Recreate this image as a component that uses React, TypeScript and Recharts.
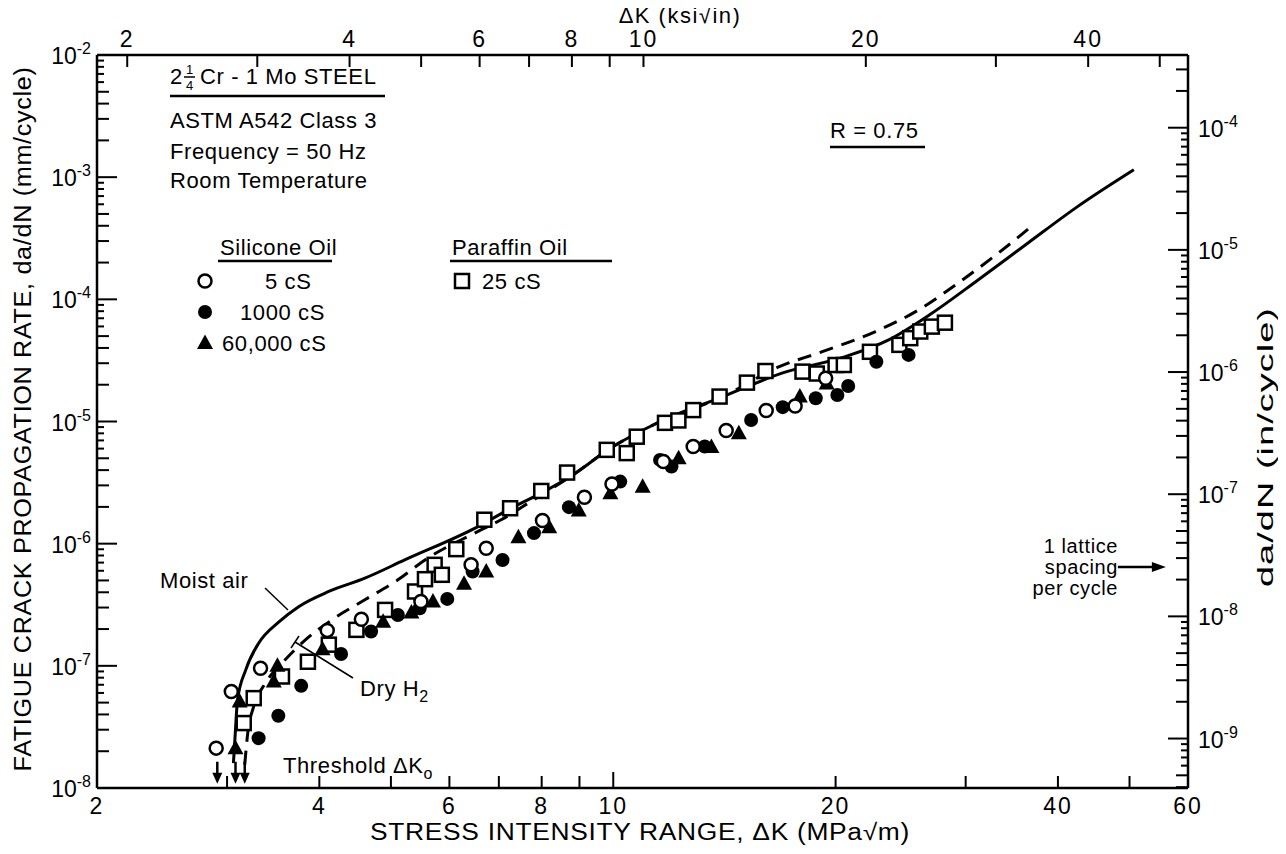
import React from "react";
import { ComposedChart, Line, Scatter, XAxis, YAxis } from "recharts";

const FONT = '"Liberation Sans", Arial, sans-serif';
const MPA_PER_KSI = 1.0988;
const MM_PER_IN = 25.4;

// stress intensity range, MPa√m (bottom) and ksi√in (top)
const MPA_DOMAIN = [2, 60];
const MPA_TICKS = [2, 3, 4, 5, 6, 7, 8, 9, 10, 20, 30, 40, 50, 60];
const MPA_LABELS = [2, 4, 6, 8, 10, 20, 40, 60];
const KSI_TICKS = [2, 3, 4, 5, 6, 7, 8, 9, 10, 20, 30, 40, 50];
const KSI_LABELS = [2, 4, 6, 8, 10, 20, 40];

// growth rate, mm/cycle (left) and in/cycle (right)
const MM_DOMAIN = [1e-8, 1e-2];

// k = ΔK (MPa√m), v = da/dN (mm/cycle)
const MOIST_AIR = [
  { k: 3.06, v: 1.6e-8 },
  { k: 3.07, v: 2.17e-8 },
  { k: 3.1, v: 5.27e-8 },
  { k: 3.18, v: 9.27e-8 },
  { k: 3.31, v: 1.53e-7 },
  { k: 3.53, v: 2.3e-7 },
  { k: 3.75, v: 3.05e-7 },
  { k: 4.12, v: 4.06e-7 },
  { k: 4.61, v: 5.22e-7 },
  { k: 5.22, v: 7.36e-7 },
  { k: 6.56, v: 1.38e-6 },
  { k: 7.27, v: 1.95e-6 },
  { k: 8.06, v: 2.67e-6 },
  { k: 8.75, v: 3.54e-6 },
  { k: 9.91, v: 6.04e-6 },
  { k: 11.45, v: 9.68e-6 },
  { k: 14.08, v: 1.6e-5 },
  { k: 16.96, v: 2.5e-5 },
  { k: 20.62, v: 3.4e-5 },
  { k: 23.6, v: 4.66e-5 },
  { k: 27.0, v: 7.69e-5 },
  { k: 31.18, v: 1.44e-4 },
  { k: 36.4, v: 2.88e-4 },
  { k: 42.52, v: 5.74e-4 },
  { k: 50.68, v: 1.15e-3 },
];

const DRY_H2 = [
  { k: 3.17, v: 1.55e-8 },
  { k: 3.2, v: 2.83e-8 },
  { k: 3.26, v: 4.65e-8 },
  { k: 3.38, v: 7.21e-8 },
  { k: 3.56, v: 1.05e-7 },
  { k: 3.83, v: 1.63e-7 },
  { k: 4.16, v: 2.38e-7 },
  { k: 4.61, v: 3.47e-7 },
  { k: 5.11, v: 5.06e-7 },
  { k: 5.56, v: 7.36e-7 },
  { k: 6.49, v: 1.22e-6 },
  { k: 7.05, v: 1.57e-6 },
  { k: 7.73, v: 2.21e-6 },
  { k: 8.75, v: 3.54e-6 },
  { k: 9.91, v: 6.04e-6 },
  { k: 11.45, v: 9.68e-6 },
  { k: 14.08, v: 1.6e-5 },
  { k: 16.78, v: 2.81e-5 },
  { k: 19.19, v: 3.73e-5 },
  { k: 22.65, v: 5.45e-5 },
  { k: 25.9, v: 8.18e-5 },
  { k: 29.31, v: 1.36e-4 },
  { k: 33.18, v: 2.38e-4 },
  { k: 36.79, v: 3.93e-4 },
];

const SILICONE_5CS = [
  { k: 2.9, v: 2.12e-8 },
  { k: 3.04, v: 6.17e-8 },
  { k: 3.33, v: 9.57e-8 },
  { k: 4.1, v: 1.95e-7 },
  { k: 4.56, v: 2.41e-7 },
  { k: 5.49, v: 3.36e-7 },
  { k: 6.42, v: 6.71e-7 },
  { k: 6.73, v: 9.18e-7 },
  { k: 8.02, v: 1.55e-6 },
  { k: 9.14, v: 2.4e-6 },
  { k: 9.96, v: 3.08e-6 },
  { k: 11.69, v: 4.7e-6 },
  { k: 12.83, v: 6.24e-6 },
  { k: 14.22, v: 8.43e-6 },
  { k: 16.11, v: 1.23e-5 },
  { k: 17.63, v: 1.34e-5 },
  { k: 19.39, v: 2.26e-5 },
];

const SILICONE_1000CS = [
  { k: 3.31, v: 2.56e-8 },
  { k: 3.52, v: 3.9e-8 },
  { k: 3.78, v: 6.86e-8 },
  { k: 4.28, v: 1.25e-7 },
  { k: 4.7, v: 1.91e-7 },
  { k: 5.11, v: 2.61e-7 },
  { k: 5.47, v: 2.96e-7 },
  { k: 5.96, v: 3.53e-7 },
  { k: 6.45, v: 5.91e-7 },
  { k: 7.08, v: 7.36e-7 },
  { k: 7.81, v: 1.22e-6 },
  { k: 8.71, v: 1.99e-6 },
  { k: 10.22, v: 3.22e-6 },
  { k: 11.57, v: 4.85e-6 },
  { k: 11.99, v: 4.28e-6 },
  { k: 13.3, v: 6.24e-6 },
  { k: 15.37, v: 1.03e-5 },
  { k: 16.96, v: 1.31e-5 },
  { k: 18.8, v: 1.55e-5 },
  { k: 20.11, v: 1.65e-5 },
  { k: 20.8, v: 1.95e-5 },
  { k: 22.71, v: 3.08e-5 },
  { k: 25.11, v: 3.51e-5 },
];

const SILICONE_60000CS = [
  { k: 3.08, v: 2.12e-8 },
  { k: 3.12, v: 5.1e-8 },
  { k: 3.47, v: 7.43e-8 },
  { k: 3.51, v: 1.0e-7 },
  { k: 4.04, v: 1.37e-7 },
  { k: 4.88, v: 2.3e-7 },
  { k: 5.33, v: 2.73e-7 },
  { k: 5.7, v: 3.36e-7 },
  { k: 6.28, v: 4.69e-7 },
  { k: 6.73, v: 5.91e-7 },
  { k: 7.44, v: 1.13e-6 },
  { k: 8.19, v: 1.36e-6 },
  { k: 8.98, v: 1.87e-6 },
  { k: 9.91, v: 2.59e-6 },
  { k: 10.96, v: 2.93e-6 },
  { k: 12.26, v: 5.01e-6 },
  { k: 13.58, v: 6.17e-6 },
  { k: 14.79, v: 8.02e-6 },
  { k: 17.89, v: 1.6e-5 },
  { k: 19.45, v: 2.05e-5 },
];

const PARAFFIN_25CS = [
  { k: 3.16, v: 3.4e-8 },
  { k: 3.26, v: 5.44e-8 },
  { k: 3.56, v: 8.18e-8 },
  { k: 3.86, v: 1.08e-7 },
  { k: 4.12, v: 1.49e-7 },
  { k: 4.49, v: 1.97e-7 },
  { k: 4.91, v: 2.87e-7 },
  { k: 5.39, v: 4.06e-7 },
  { k: 5.56, v: 5.12e-7 },
  { k: 5.73, v: 6.71e-7 },
  { k: 5.86, v: 5.56e-7 },
  { k: 6.13, v: 9.02e-7 },
  { k: 6.69, v: 1.57e-6 },
  { k: 7.25, v: 1.95e-6 },
  { k: 7.99, v: 2.7e-6 },
  { k: 8.66, v: 3.82e-6 },
  { k: 9.8, v: 5.86e-6 },
  { k: 10.43, v: 5.51e-6 },
  { k: 10.76, v: 7.51e-6 },
  { k: 11.75, v: 9.75e-6 },
  { k: 12.25, v: 1.02e-5 },
  { k: 12.83, v: 1.24e-5 },
  { k: 13.93, v: 1.6e-5 },
  { k: 15.17, v: 2.08e-5 },
  { k: 16.07, v: 2.59e-5 },
  { k: 18.04, v: 2.56e-5 },
  { k: 18.86, v: 2.47e-5 },
  { k: 20.0, v: 2.9e-5 },
  { k: 20.52, v: 2.9e-5 },
  { k: 22.26, v: 3.72e-5 },
  { k: 24.4, v: 4.24e-5 },
  { k: 25.24, v: 4.81e-5 },
  { k: 26.04, v: 5.45e-5 },
  { k: 27.0, v: 5.98e-5 },
  { k: 28.12, v: 6.44e-5 },
];

// threshold ΔK0 arrows and the one-lattice-spacing marker
const THRESHOLD = [
  { k: 2.91, v: 1.64e-8 },
  { k: 3.08, v: 1.64e-8 },
  { k: 3.17, v: 1.64e-8 },
];
const LATTICE = [{ k: 56, v: 6.45e-7 }];

function logTicks(lo: number, hi: number) {
  const out: number[] = [];
  for (let d = Math.floor(Math.log10(lo)); d <= Math.ceil(Math.log10(hi)); d++) {
    for (let m = 1; m <= 9; m++) {
      const t = parseFloat((m * Math.pow(10, d)).toPrecision(6));
      if (t >= lo * 0.999999 && t <= hi * 1.000001) out.push(t);
    }
  }
  return out;
}

const MM_TICKS = logTicks(MM_DOMAIN[0], MM_DOMAIN[1]);
const IN_TICKS = logTicks(MM_DOMAIN[0] / MM_PER_IN, MM_DOMAIN[1] / MM_PER_IN);
// the ksi axis only gets its ticks when a series is bound to it
const KSI_ANCHOR = KSI_TICKS.map((k) => ({ k, v: MM_DOMAIN[0] }));

const isDecade = (t: number) =>
  Math.abs(Math.log10(t) - Math.round(Math.log10(t))) < 1e-6;
const mantissa = (t: number) =>
  Math.round(t / Math.pow(10, Math.floor(Math.log10(t) + 1e-9)));

function decadeLabel(x: number, y: number, t: number, anchor: "start" | "end") {
  const exp = Math.round(Math.log10(t));
  return (
    <text x={x} y={y} textAnchor={anchor} fontFamily={FONT} fontSize={23} fill="#000">
      10
      <tspan dy={-10} fontSize={16}>
        {String(exp)}
      </tspan>
    </text>
  );
}

const BottomTick = (props: any) => {
  const { x, y, payload } = props;
  const t = payload.value;
  const edge = t === 2 || t === 60;
  const len = t === 10 ? 16 : 12;
  return (
    <g>
      {!edge && <line x1={x} y1={y} x2={x} y2={y - len} stroke="#000" strokeWidth={2} />}
      {MPA_LABELS.includes(t) && (
        <text x={x} y={y + 26} textAnchor="middle" fontFamily={FONT} fontSize={23} letterSpacing={2} fill="#000">
          {t}
        </text>
      )}
    </g>
  );
};

const TopTick = (props: any) => {
  const { x, y, payload } = props;
  const t = payload.value;
  return (
    <g>
      <line x1={x} y1={y} x2={x} y2={y + 12} stroke="#000" strokeWidth={2} />
      {KSI_LABELS.includes(t) && (
        <text x={x} y={y - 8} textAnchor="middle" fontFamily={FONT} fontSize={23} letterSpacing={2} fill="#000">
          {t}
        </text>
      )}
    </g>
  );
};

const tickLen = (t: number) => {
  if (isDecade(t)) return 20;
  return mantissa(t) <= 5 ? 12 : 7;
};

const LeftTick = (props: any) => {
  const { x, y, payload } = props;
  const t = payload.value;
  const edge = Math.abs(t - 1e-8) < 1e-14 || Math.abs(t - 1e-2) < 1e-8;
  return (
    <g>
      {!edge && <line x1={x} y1={y} x2={x + tickLen(t)} y2={y} stroke="#000" strokeWidth={2} />}
      {isDecade(t) && decadeLabel(x - 6, y + 9, t, "end")}
    </g>
  );
};

const RightTick = (props: any) => {
  const { x, y, payload } = props;
  const t = payload.value;
  return (
    <g>
      <line x1={x} y1={y} x2={x - tickLen(t)} y2={y} stroke="#000" strokeWidth={2} />
      {isDecade(t) && decadeLabel(x + 10, y + 9, t, "start")}
    </g>
  );
};

const openCircle = (p: any) => (
  <circle cx={p.cx} cy={p.cy} r={6.5} fill="#fff" stroke="#000" strokeWidth={2.5} />
);
const filledCircle = (p: any) => <circle cx={p.cx} cy={p.cy} r={7} fill="#000" />;
const filledTriangle = (p: any) => (
  <polygon
    points={`${p.cx},${p.cy - 8.5} ${p.cx - 8},${p.cy + 6} ${p.cx + 8},${p.cy + 6}`}
    fill="#000"
  />
);
const openSquare = (p: any) => (
  <rect x={p.cx - 7} y={p.cy - 7} width={14} height={14} fill="#fff" stroke="#000" strokeWidth={2.5} />
);
const downArrow = (p: any) => (
  <g>
    <line x1={p.cx} y1={p.cy} x2={p.cx} y2={p.cy + 12} stroke="#000" strokeWidth={2.5} />
    <polygon points={`${p.cx - 5},${p.cy + 11} ${p.cx + 5},${p.cy + 11} ${p.cx},${p.cy + 22}`} fill="#000" />
  </g>
);
const rightArrow = (p: any) => (
  <g>
    <line x1={p.cx - 48} y1={p.cy} x2={p.cx - 10} y2={p.cy} stroke="#000" strokeWidth={2.5} />
    <polygon points={`${p.cx - 14},${p.cy - 5} ${p.cx - 14},${p.cy + 5} ${p.cx},${p.cy}`} fill="#000" />
  </g>
);
const noMark = () => <g />;

const txt = { fontFamily: FONT, fontSize: 22, letterSpacing: 0.6, fill: "#000" };

function Annotations() {
  // covers the whole page (body margin included) so nothing near the edges is clipped
  return (
    <svg
      width={1286}
      height={854}
      style={{ position: "absolute", left: -8, top: -8, pointerEvents: "none" }}
    >
      <g transform="translate(8,8)">
        {/* axis titles */}
        <text x={672} y={15} textAnchor="middle" fontFamily={FONT} fontSize={22} letterSpacing={1.5} fill="#000">
          ΔK (ksi√in)
        </text>
        <text x={632} y={832} textAnchor="middle" {...txt} fontSize={23} textLength={540} lengthAdjust="spacingAndGlyphs">
          STRESS INTENSITY RANGE, ΔK (MPa√m)
        </text>
        <text
          transform="translate(23,411) rotate(-90)"
          textAnchor="middle"
          {...txt}
          fontSize={23}
          textLength={705}
          lengthAdjust="spacingAndGlyphs"
        >
          FATIGUE CRACK PROPAGATION RATE, da/dN (mm/cycle)
        </text>
        <text
          transform="translate(1265,439) rotate(-90)"
          textAnchor="middle"
          {...txt}
          fontSize={22}
          textLength={280}
          lengthAdjust="spacingAndGlyphs"
        >
          da/dN (in/cycle)
        </text>

        {/* material block */}
        <text x={162} y={76} {...txt}>2</text>
        <text x={178} y={66} fontFamily={FONT} fontSize={13}>1</text>
        <line x1={176} y1={69} x2={187} y2={69} stroke="#000" strokeWidth={1.5} />
        <text x={178} y={82} fontFamily={FONT} fontSize={13}>4</text>
        <text x={192} y={76} {...txt}>Cr - 1 Mo STEEL</text>
        <line x1={162} y1={88} x2={377} y2={88} stroke="#000" strokeWidth={2.5} />
        <text x={162} y={120} {...txt}>ASTM A542 Class 3</text>
        <text x={162} y={151} {...txt}>Frequency = 50 Hz</text>
        <text x={162} y={180} {...txt}>Room Temperature</text>

        {/* legend */}
        <text x={212} y={247} {...txt}>Silicone Oil</text>
        <line x1={210} y1={253} x2={324} y2={253} stroke="#000" strokeWidth={2.5} />
        <text x={444} y={247} {...txt}>Paraffin Oil</text>
        <line x1={442} y1={253} x2={604} y2={253} stroke="#000" strokeWidth={2.5} />
        {openCircle({ cx: 197, cy: 273 })}
        <text x={257} y={281} {...txt}>5 cS</text>
        {openSquare({ cx: 454, cy: 273 })}
        <text x={474} y={281} {...txt}>25 cS</text>
        {filledCircle({ cx: 197, cy: 304 })}
        <text x={232} y={312} {...txt}>1000 cS</text>
        {filledTriangle({ cx: 197, cy: 335 })}
        <text x={214} y={343} {...txt}>60,000 cS</text>

        <text x={822} y={130} {...txt}>R = 0.75</text>
        <line x1={822} y1={139} x2={917} y2={139} stroke="#000" strokeWidth={2.5} />

        {/* curve labels */}
        <text x={152} y={580} {...txt}>Moist air</text>
        <line x1={257} y1={580} x2={280} y2={602} stroke="#000" strokeWidth={1.5} />
        <text x={352} y={688} {...txt}>
          Dry  H<tspan dy={6} fontSize={16}>2</tspan>
        </text>
        <line x1={287} y1={634} x2={345} y2={670} stroke="#000" strokeWidth={1.5} />
        <line x1={283} y1={640} x2={291} y2={628} stroke="#000" strokeWidth={1.5} />
        <text x={275} y={765} {...txt}>
          Threshold  ΔK<tspan dy={6} fontSize={16}>o</tspan>
        </text>

        <text x={1110} y={545} textAnchor="end" {...txt} fontSize={20}>1 lattice</text>
        <text x={1110} y={566} textAnchor="end" {...txt} fontSize={20}>spacing</text>
        <text x={1110} y={587} textAnchor="end" {...txt} fontSize={20}>per cycle</text>
      </g>
    </svg>
  );
}

export default function App() {
  return (
    <div style={{ position: "relative", width: 1270, height: 838, background: "#fff" }}>
      <ComposedChart width={1270} height={838} margin={{ top: 17, right: 30, bottom: 28, left: 29 }}>
        <XAxis
          xAxisId="mpa"
          dataKey="k"
          type="number"
          scale="log"
          domain={MPA_DOMAIN}
          allowDataOverflow
          ticks={MPA_TICKS}
          interval={0}
          orientation="bottom"
          height={30}
          tickSize={0}
          tickMargin={0}
          tickLine={false}
          tick={<BottomTick />}
          axisLine={{ stroke: "#000", strokeWidth: 2.5 }}
        />
        <XAxis
          xAxisId="ksi"
          dataKey="k"
          type="number"
          scale="log"
          domain={[MPA_DOMAIN[0] / MPA_PER_KSI, MPA_DOMAIN[1] / MPA_PER_KSI]}
          allowDataOverflow
          ticks={KSI_TICKS}
          interval={0}
          orientation="top"
          height={30}
          tickSize={0}
          tickMargin={0}
          tickLine={false}
          tick={<TopTick />}
          axisLine={{ stroke: "#000", strokeWidth: 2.5 }}
        />
        <YAxis
          yAxisId="mm"
          dataKey="v"
          type="number"
          scale="log"
          domain={MM_DOMAIN}
          allowDataOverflow
          ticks={MM_TICKS}
          interval={0}
          orientation="left"
          width={60}
          tickSize={0}
          tickMargin={0}
          tickLine={false}
          tick={<LeftTick />}
          axisLine={{ stroke: "#000", strokeWidth: 2.5 }}
        />
        <YAxis
          yAxisId="in"
          type="number"
          scale="log"
          domain={[MM_DOMAIN[0] / MM_PER_IN, MM_DOMAIN[1] / MM_PER_IN]}
          allowDataOverflow
          ticks={IN_TICKS}
          interval={0}
          orientation="right"
          width={60}
          tickSize={0}
          tickMargin={0}
          tickLine={false}
          tick={<RightTick />}
          axisLine={{ stroke: "#000", strokeWidth: 2.5 }}
        />
        <Scatter data={KSI_ANCHOR} xAxisId="ksi" yAxisId="mm" shape={noMark} isAnimationActive={false} />
        <Line
          data={MOIST_AIR}
          dataKey="v"
          xAxisId="mpa"
          yAxisId="mm"
          type="monotone"
          stroke="#000"
          strokeWidth={3}
          dot={false}
          isAnimationActive={false}
        />
        <Line
          data={DRY_H2}
          dataKey="v"
          xAxisId="mpa"
          yAxisId="mm"
          type="monotone"
          stroke="#000"
          strokeWidth={3}
          strokeDasharray="14 9"
          dot={false}
          isAnimationActive={false}
        />
        <Scatter data={PARAFFIN_25CS} xAxisId="mpa" yAxisId="mm" shape={openSquare} isAnimationActive={false} />
        <Scatter data={SILICONE_1000CS} xAxisId="mpa" yAxisId="mm" shape={filledCircle} isAnimationActive={false} />
        <Scatter data={SILICONE_60000CS} xAxisId="mpa" yAxisId="mm" shape={filledTriangle} isAnimationActive={false} />
        <Scatter data={SILICONE_5CS} xAxisId="mpa" yAxisId="mm" shape={openCircle} isAnimationActive={false} />
        <Scatter data={THRESHOLD} xAxisId="mpa" yAxisId="mm" shape={downArrow} isAnimationActive={false} />
        <Scatter data={LATTICE} xAxisId="mpa" yAxisId="mm" shape={rightArrow} isAnimationActive={false} />
      </ComposedChart>
      <Annotations />
    </div>
  );
}
